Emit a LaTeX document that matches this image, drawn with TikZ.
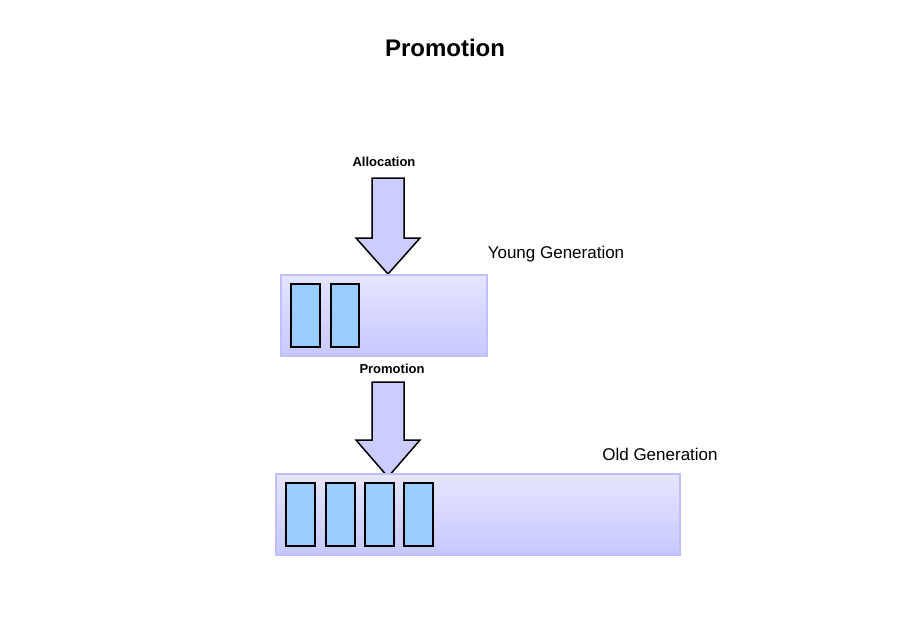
\documentclass[tikz,border=0pt]{standalone}
\usepackage{fontspec}
\setmainfont{Liberation Sans}
\begin{document}
\begin{tikzpicture}[x=1pt,y=-1pt,
  gen/.style={draw=blue!25,line width=1.5pt,top color=blue!10,bottom color=blue!22},
  obj/.style={draw=black,line width=1.5pt,fill=cyan!30!blue!40!white,fill={rgb,255:red,153;green,204;blue,255}},
  bigarrow/.style={draw=black,line width=1.5pt,fill={rgb,255:red,204;green,204;blue,255}},
  lbl/.style={font=\bfseries\fontsize{13}{15}\selectfont},
  glbl/.style={font=\fontsize{17}{20}\selectfont}]
\useasboundingbox (0,0) rectangle (908,638);
\node[font=\bfseries\fontsize{24}{28}\selectfont] (title) at (445,48) {Promotion};
% young
\node[lbl] (alloc) at (384,162) {Allocation};
\draw[bigarrow] (372,178) -- (404,178) -- (404,238) -- (420,238) -- (388,274) -- (356,238) -- (372,238) -- cycle;
\path[gen] (281,275) rectangle (487,356);
\node[glbl] (ylbl) at (556,254) {Young Generation};
\draw[obj] (291,284) rectangle (320,347);
\draw[obj] (331,284) rectangle (359,347);
% promotion
\node[lbl] (promo) at (392,369) {Promotion};
\draw[bigarrow] (372,382) -- (404,382) -- (404,440) -- (420,440) -- (388,477) -- (356,440) -- (372,440) -- cycle;
\path[gen] (276,474) rectangle (680,555);
\node[glbl] (olbl) at (660,454) {Old Generation};
\foreach \x in {286,326,365,404}
  \draw[obj] (\x,483) rectangle (\x+29,546);
\end{tikzpicture}
\end{document}
